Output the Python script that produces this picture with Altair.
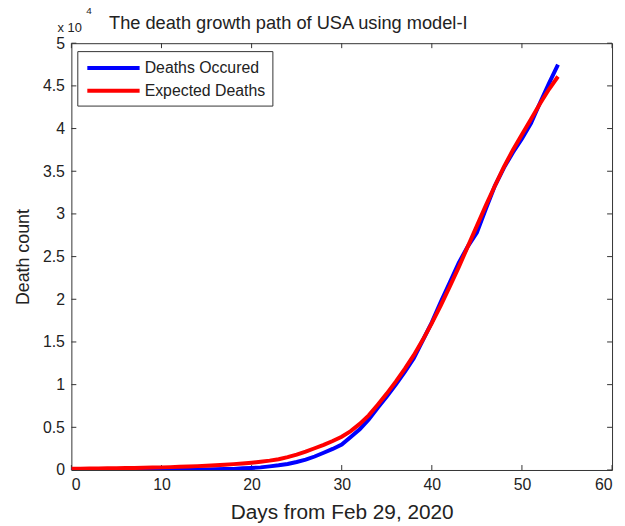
import altair as alt
import pandas as pd

# ---------------- data ----------------
days = list(range(55))
deaths_occurred = [
    1, 1, 6, 7, 11, 12, 14, 17, 21, 22,
    28, 36, 40, 47, 54, 63, 85, 108, 118, 200,
    244, 307, 427, 552, 706, 942, 1209, 1581, 2026, 2467,
    2978, 3873, 4757, 5926, 7300, 8600, 10000, 11500, 13100, 15200,
    17300, 19700, 22000, 24300, 26200, 27800, 30600, 33300, 35400, 37200,
    38800, 40600, 43000, 45300, 47500,
]
expected_deaths = [
    150, 160, 170, 180, 195, 210, 225, 240, 260, 280,
    305, 335, 370, 410, 455, 505, 560, 620, 690, 770,
    860, 970, 1100, 1260, 1500, 1800, 2150, 2550, 2950, 3400,
    3900, 4550, 5400, 6400, 7650, 8950, 10350, 11850, 13450, 15250,
    17200, 19300, 21500, 23800, 26200, 28600, 31000, 33300, 35500, 37500,
    39300, 41100, 42900, 44600, 46100,
]
series_names = ["Deaths Occured", "Expected Deaths"]
series_colors = ["#0000ff", "#ff0000"]
x_ticks = [0, 10, 20, 30, 40, 50, 60]
y_ticks = [0, 5000, 10000, 15000, 20000, 25000, 30000, 35000, 40000, 45000, 50000]
title_text = "The death growth path of USA using model-I"

df = pd.DataFrame({
    "day": days + days,
    "deaths": deaths_occurred + expected_deaths,
    "series": [series_names[0]] * len(days) + [series_names[1]] * len(days),
})
xt = pd.DataFrame({"t": x_ticks})
yt = pd.DataFrame({"t": y_ticks})

W, H = 546, 431
FONT = "Liberation Sans"
AX = "#333333"
TXT = "#222222"
TL = 5  # inward tick length

x_scale = alt.Scale(domain=[0, 60], nice=False, zero=False)
y_scale = alt.Scale(domain=[0, 50000], nice=False)

x_axis = alt.Axis(values=x_ticks, title="Days from Feb 29, 2020", grid=False,
                  domain=False, ticks=False, labelPadding=7,
                  labelFont=FONT, labelFontSize=16, labelColor=TXT,
                  titleFont=FONT, titleFontSize=21, titleFontWeight="normal",
                  titleColor=TXT, titlePadding=9)
y_axis = alt.Axis(values=y_ticks, labelExpr="datum.value / 10000",
                  title="Death count", grid=False, domain=False, ticks=False,
                  labelPadding=7, labelFont=FONT, labelFontSize=16,
                  labelColor=TXT, titleFont=FONT, titleFontSize=18,
                  titleFontWeight="normal", titleColor=TXT, titlePadding=10)

lines = alt.Chart(df).mark_line(strokeWidth=4, clip=True).encode(
    x=alt.X("day:Q", scale=x_scale, axis=x_axis),
    y=alt.Y("deaths:Q", scale=y_scale, axis=y_axis),
    color=alt.Color("series:N",
                    scale=alt.Scale(domain=series_names, range=series_colors),
                    legend=alt.Legend(title=None, orient="none", legendX=6, legendY=8,
                                      strokeColor=AX, fillColor="white", padding=7,
                                      symbolType="M-3.3,0H3.3", symbolSize=16 * 16,
                                      symbolStrokeWidth=4, symbolOffset=19.5,
                                      labelFont=FONT, labelFontSize=16, labelColor=TXT,
                                      rowPadding=5, labelOffset=21.5)),
)

tick_b = alt.Chart(xt).mark_rule(color=AX).encode(
    x=alt.X("t:Q", scale=x_scale, axis=x_axis), y=alt.value(H), y2=alt.value(H - TL))
tick_t = alt.Chart(xt).mark_rule(color=AX).encode(
    x=alt.X("t:Q", scale=x_scale, axis=x_axis), y=alt.value(0), y2=alt.value(TL))
tick_l = alt.Chart(yt).mark_rule(color=AX).encode(
    y=alt.Y("t:Q", scale=y_scale, axis=y_axis), x=alt.value(0), x2=alt.value(TL))
tick_r = alt.Chart(yt).mark_rule(color=AX).encode(
    y=alt.Y("t:Q", scale=y_scale, axis=y_axis), x=alt.value(W), x2=alt.value(W - TL))

mult = pd.DataFrame({"a": ["x 10"], "b": ["4"], "c": [title_text]})
mult_main = alt.Chart(mult).mark_text(font=FONT, fontSize=13, color=TXT, align="left",
                                      baseline="alphabetic").encode(
    text="a:N", x=alt.value(-14), y=alt.value(-11))
mult_exp = alt.Chart(mult).mark_text(font=FONT, fontSize=10, color=TXT, align="left",
                                     baseline="alphabetic").encode(
    text="b:N", x=alt.value(15), y=alt.value(-29))
title_mark = alt.Chart(mult).mark_text(font=FONT, fontSize=18.4, color=TXT, align="left",
                                       baseline="alphabetic").encode(
    text="c:N", x=alt.value(38), y=alt.value(-14))

chart = alt.layer(tick_b, tick_t, tick_l, tick_r, lines,
                  mult_main, mult_exp, title_mark).properties(
    width=W, height=H,
    autosize=alt.AutoSizeParams(type="none"),
    padding={"left": 64, "top": 33, "right": 5, "bottom": 53},
).configure_view(stroke=AX, strokeWidth=1)

chart.save("out.html", embed_options={"renderer": "svg", "actions": False})
